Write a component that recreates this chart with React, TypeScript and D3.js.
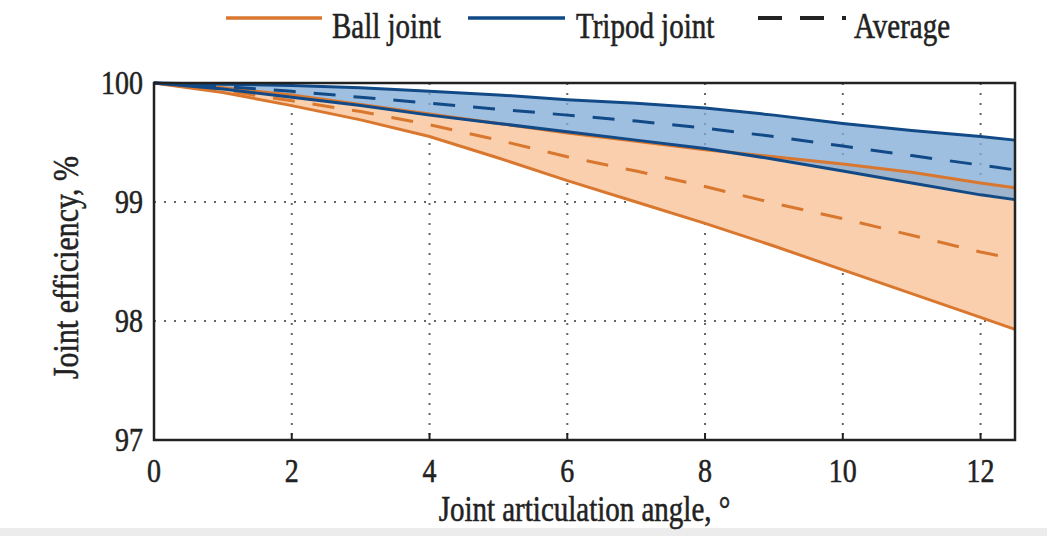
import * as d3 from "d3";

// angle samples, degrees
const angles = [0, 1, 2, 3, 4, 5, 6, 7, 8, 9, 10, 11, 12, 12.5];

// ball joint efficiency band, %
const ballUpper = [100, 99.96, 99.9, 99.82, 99.74, 99.66, 99.58, 99.51, 99.44, 99.38, 99.32, 99.25, 99.16, 99.12];
const ballLower = [100, 99.92, 99.81, 99.69, 99.55, 99.37, 99.18, 99.0, 98.82, 98.63, 98.43, 98.23, 98.03, 97.93];
const ballAvg = [100, 99.94, 99.85, 99.76, 99.65, 99.52, 99.38, 99.26, 99.13, 98.99, 98.86, 98.72, 98.58, 98.52];

// tripod joint efficiency band, %
const tripodUpper = [100, 99.99, 99.98, 99.96, 99.93, 99.9, 99.86, 99.83, 99.79, 99.73, 99.66, 99.6, 99.55, 99.52];
const tripodLower = [100, 99.95, 99.88, 99.81, 99.73, 99.66, 99.59, 99.52, 99.45, 99.36, 99.26, 99.16, 99.06, 99.02];
const tripodAvg = [100, 99.97, 99.93, 99.88, 99.83, 99.78, 99.73, 99.68, 99.62, 99.55, 99.47, 99.39, 99.31, 99.27];

const xTicks = [0, 2, 4, 6, 8, 10, 12];
const yTicks = [97, 98, 99, 100];

const ORANGE = "#d9772f";
const ORANGE_FILL = "#f9cfae";
const BLUE = "#114a87";
const BLUE_FILL = "#7fa9d6";
const INK = "#222";
const FONT = "'Liberation Serif', 'DejaVu Serif', serif";

// the scanned font is tall and narrow, so stretch the text a bit vertically
function Label({ x, y, size, anchor = "start", rotate = 0, children }: any) {
  return (
    <text
      transform={`translate(${x},${y}) rotate(${rotate}) scale(1,1.2)`}
      textAnchor={anchor}
      fontSize={size}
      fill={INK}
      stroke={INK}
      strokeWidth={0.45}
    >
      {children}
    </text>
  );
}

export default function App() {
  const width = 1047;
  const height = 536;
  const m = { left: 154, right: 1015, top: 83, bottom: 440 };

  const x = d3.scaleLinear().domain([0, 12.5]).range([m.left, m.right]);
  const y = d3.scaleLinear().domain([97, 100]).range([m.bottom, m.top]);

  const line = d3
    .line<number>()
    .x((_, i) => x(angles[i]))
    .y((d) => y(d));

  const band = (lo: number[], hi: number[]) =>
    d3
      .area<number>()
      .x((_, i) => x(angles[i]))
      .y0((_, i) => y(lo[i]))
      .y1((_, i) => y(hi[i]))(angles) || "";

  return (
    <svg
      width={width}
      height={height}
      style={{ position: "absolute", left: 0, top: 0, background: "#fff" }}
      fontFamily={FONT}
    >
      <rect x={0} y={528} width={width} height={8} fill="#ececec" />

      {/* grid */}
      {xTicks.slice(1).map((t) => (
        <line key={"gx" + t} x1={x(t)} x2={x(t)} y1={m.top} y2={m.bottom}
          stroke="#666" strokeWidth={2} strokeDasharray="2,8" />
      ))}
      {yTicks.slice(1, -1).map((t) => (
        <line key={"gy" + t} x1={m.left} x2={m.right} y1={y(t)} y2={y(t)}
          stroke="#666" strokeWidth={2} strokeDasharray="2,8" />
      ))}

      {/* bands */}
      <path d={band(ballLower, ballUpper)} fill={ORANGE_FILL} />
      <path d={band(tripodLower, tripodUpper)} fill={BLUE_FILL} fillOpacity={0.75} />

      {/* lines */}
      <path d={line(ballLower) || ""} fill="none" stroke={ORANGE} strokeWidth={3} />
      <path d={line(ballUpper) || ""} fill="none" stroke={ORANGE} strokeWidth={3} />
      <path d={line(ballAvg) || ""} fill="none" stroke={ORANGE} strokeWidth={3} strokeDasharray="22,18" />
      <path d={line(tripodLower) || ""} fill="none" stroke={BLUE} strokeWidth={3} />
      <path d={line(tripodUpper) || ""} fill="none" stroke={BLUE} strokeWidth={3} />
      <path d={line(tripodAvg) || ""} fill="none" stroke={BLUE} strokeWidth={3} strokeDasharray="22,18" />

      {/* frame */}
      <rect x={m.left} y={m.top} width={m.right - m.left} height={m.bottom - m.top}
        fill="none" stroke={INK} strokeWidth={2.5} />
      {xTicks.slice(1).map((t) => (
        <line key={"tx" + t} x1={x(t)} x2={x(t)} y1={m.bottom} y2={m.bottom - 7} stroke={INK} strokeWidth={2} />
      ))}

      {/* tick labels */}
      {xTicks.map((t) => (
        <Label key={"lx" + t} x={x(t)} y={482} size={28} anchor="middle">{t}</Label>
      ))}
      {yTicks.map((t) => (
        <Label key={"ly" + t} x={143} y={y(t) + 11} size={28} anchor="end">{t}</Label>
      ))}

      {/* axis titles */}
      <Label x={(m.left + m.right) / 2} y={521} size={29} anchor="middle">
        Joint articulation angle, °
      </Label>
      <Label x={78} y={(m.top + m.bottom) / 2 + 6} size={30} anchor="middle" rotate={-90}>
        Joint efficiency, %
      </Label>

      {/* legend */}
      <line x1={226} x2={322} y1={18} y2={18} stroke={ORANGE} strokeWidth={3.5} />
      <Label x={332} y={38} size={29}>Ball joint</Label>
      <line x1={468} x2={565} y1={18} y2={18} stroke={BLUE} strokeWidth={3.5} />
      <Label x={576} y={38} size={29}>Tripod joint</Label>
      <line x1={758} x2={846} y1={18} y2={18} stroke={INK} strokeWidth={4} strokeDasharray="24,18" />
      <Label x={854} y={38} size={29}>Average</Label>
    </svg>
  );
}
